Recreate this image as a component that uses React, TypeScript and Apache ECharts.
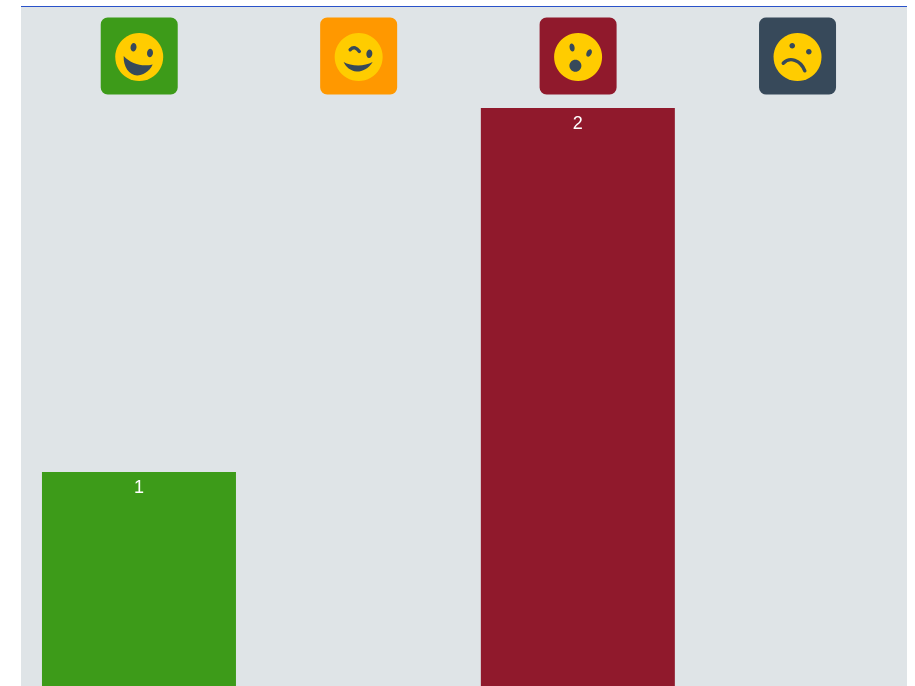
import React, { useEffect, useRef } from "react";
import * as echarts from "echarts";

const categories = ["Very happy", "Happy", "Surprised", "Sad"];
const values = [1, 0, 2, 0];
const barColors = ["#3d9b19", "#ff9800", "#90192c", "#37495a"];
const faceColor = "#ffcc00";
const inkColor = "#37495a";
const axisMax = 2;

const GRID_TOP = 108;
const GRID_HEIGHT = 728;

function ellipse(cx: number, cy: number, rx: number, ry: number, rotation = 0) {
  return {
    type: "ellipse",
    x: cx,
    y: cy,
    rotation,
    shape: { cx: 0, cy: 0, rx, ry },
    style: { fill: inkColor },
  };
}

function rawPath(d: string, box: number[], stroked = false) {
  return {
    type: "path",
    shape: { pathData: d, x: box[0], y: box[1], width: box[2], height: box[3], layout: "center" },
    style: stroked
      ? { fill: "none", stroke: inkColor, lineWidth: 3.4, lineCap: "round" }
      : { fill: inkColor },
  };
}

function features(i: number): any[] {
  if (i === 0) {
    return [
      ellipse(-5.7, -9.7, 3, 4.3, -0.1),
      ellipse(10.8, -4, 3, 4.3, -0.1),
      rawPath(
        "M-15.5,-1 C-8,7 3,10 13.5,7.5 C10,15 3,18.5 -2,18.5 C-10,18 -16,10 -15.5,-1Z",
        [-15.6, -1, 29.1, 19.5]
      ),
    ];
  }
  if (i === 1) {
    return [
      rawPath("M-8.5,-7 C-5,-10.5 -2,-9 0.7,-5.2", [-8.5, -9.6, 9.2, 4.4], true),
      ellipse(10.7, -3.3, 3, 4.3, -0.1),
      rawPath(
        "M-15,5 C-8,9 5,10 14,5 C10,12 2,15 -2,14.5 C-8,14 -13,10 -15,5Z",
        [-15, 5, 29, 9.6]
      ),
    ];
  }
  if (i === 2) {
    return [
      ellipse(-6, -9.5, 2.5, 4, 0.2),
      ellipse(11, -4, 2.5, 4, -0.45),
      ellipse(-2.7, 8.7, 6, 6),
    ];
  }
  return [
    ellipse(-5.3, -11.3, 2.8, 2.8),
    ellipse(11.3, -5.3, 2.8, 2.8),
    rawPath("M-14.3,6.7 C-8,0 3,3 7.3,14.3", [-14.3, 2.2, 21.6, 12.1], true),
  ];
}

export default function App() {
  const ref = useRef<HTMLDivElement>(null);

  useEffect(() => {
    if (!ref.current) return;
    const chart = echarts.init(ref.current, undefined, { renderer: "svg" });
    chart.setOption({
      animation: false,
      backgroundColor: "transparent",
      graphic: {
        elements: [
          {
            type: "rect",
            z: -10,
            silent: true,
            shape: { x: 21, y: 7, width: 886, height: 893 },
            style: { fill: "#dfe4e7" },
          },
          {
            type: "rect",
            z: -9,
            silent: true,
            shape: { x: 21, y: 6, width: 886, height: 1 },
            style: { fill: "#2a52c9" },
          },
        ],
      },
      grid: { left: 29.25, width: 877.75, top: GRID_TOP, height: GRID_HEIGHT },
      xAxis: { type: "category", data: categories, show: false },
      yAxis: { type: "value", min: 0, max: axisMax, show: false, splitLine: { show: false } },
      series: [
        {
          type: "bar",
          barWidth: 194,
          data: values.map((v, i) => ({ value: v, itemStyle: { color: barColors[i] } })),
          label: {
            show: true,
            position: "insideTop",
            distance: 6,
            color: "#ffffff",
            fontFamily: "Liberation Sans",
            fontSize: 18,
            formatter: (p: any) => (p.value ? String(p.value) : ""),
          },
        },
        {
          type: "custom",
          clip: false,
          silent: true,
          data: categories.map((_, i) => [i, axisMax]),
          renderItem: (params: any, api: any) => {
            const i = params.dataIndex;
            const [cx, top] = api.coord([api.value(0), api.value(1)]);
            return {
              type: "group",
              x: cx + 0.25,
              y: top - 51,
              children: [
                {
                  type: "rect",
                  shape: { x: -38.5, y: -39.5, width: 77, height: 77, r: 7 },
                  style: { fill: barColors[i] },
                },
                { type: "circle", shape: { cx: 0, cy: 0, r: 24 }, style: { fill: faceColor } },
                ...features(i),
              ],
            };
          },
        },
      ],
    });
    return () => chart.dispose();
  }, []);

  return (
    <div style={{ position: "fixed", left: 0, top: 0, width: 915, height: 686, overflow: "hidden" }}>
      <div ref={ref} style={{ width: 915, height: 900 }} />
    </div>
  );
}
